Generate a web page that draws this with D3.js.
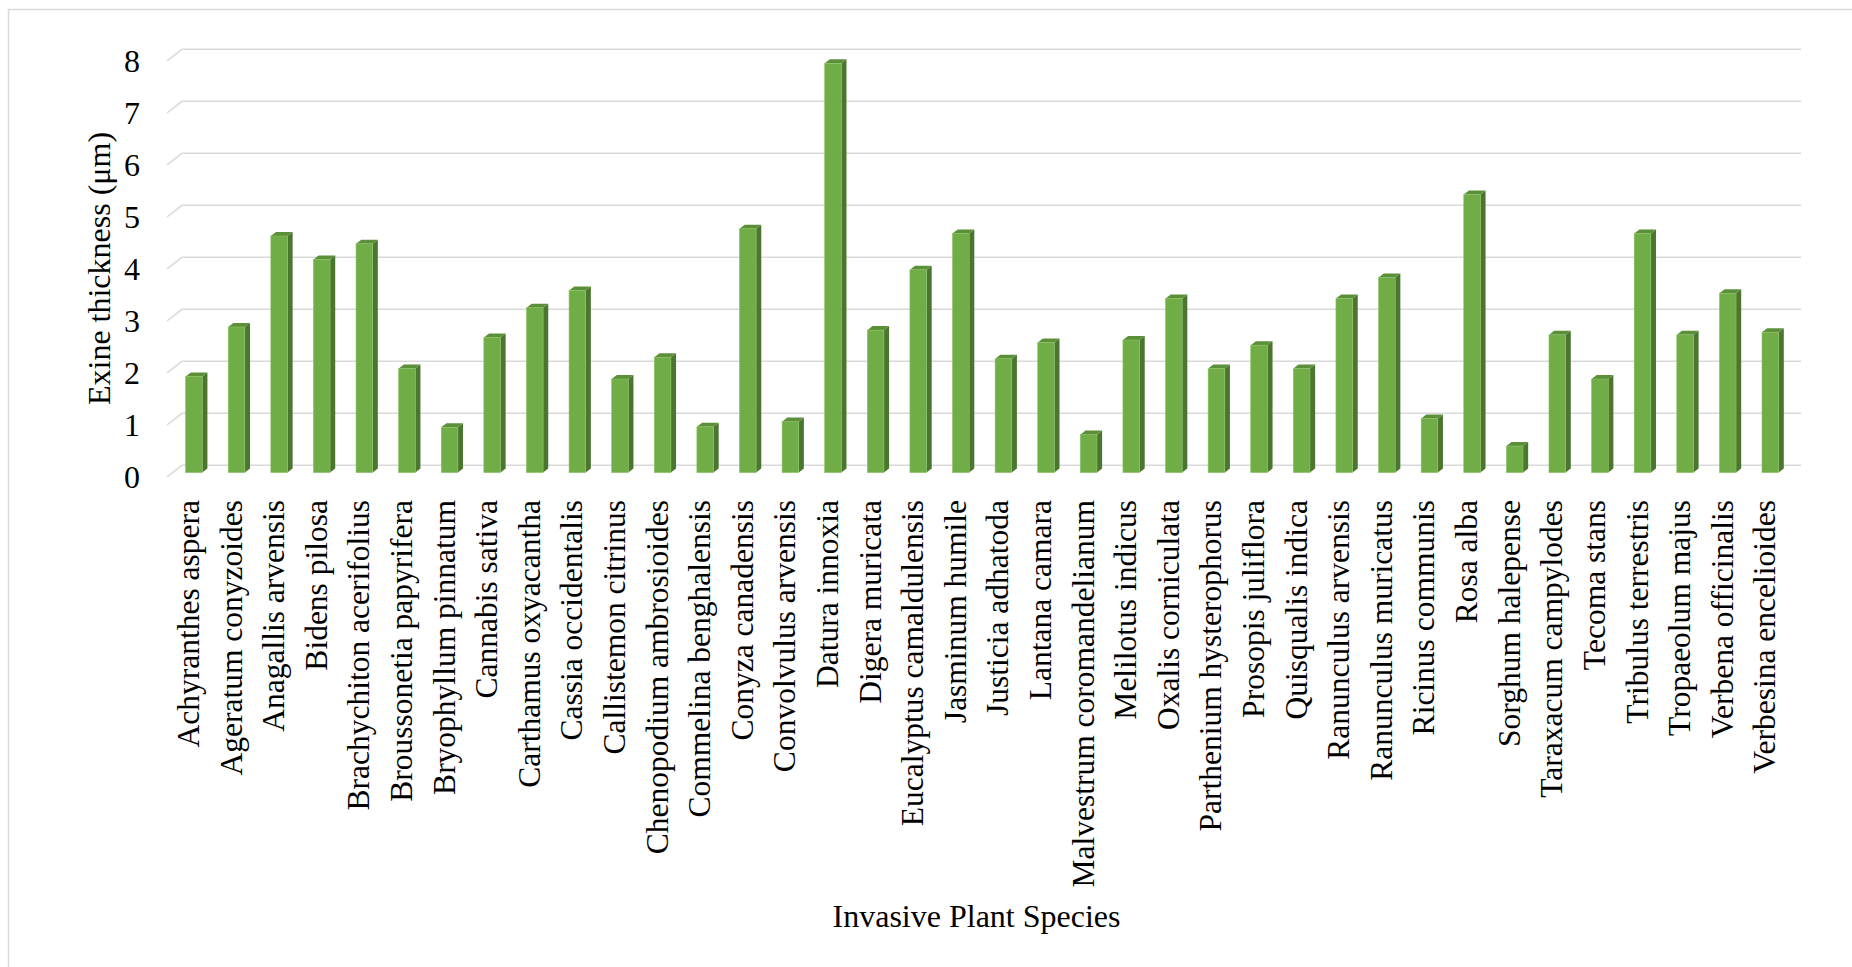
<!DOCTYPE html>
<html>
<head>
<meta charset="utf-8">
<script src="https://cdn.jsdelivr.net/npm/d3@7/dist/d3.min.js"></script>
<style>
  html, body { margin: 0; padding: 0; background: #ffffff; }
  svg { display: block; }
  text { font-family: "Liberation Serif", "Times New Roman", serif; fill: #000; }
</style>
</head>
<body>
<svg id="chart" width="1852" height="967"></svg>
<script>
// ---- Data ----
const categories = [
  "Achyranthes aspera", "Ageratum conyzoides", "Anagallis arvensis", "Bidens pilosa",
  "Brachychiton acerifolius", "Broussonetia papyrifera", "Bryophyllum pinnatum", "Cannabis sativa",
  "Carthamus oxyacantha", "Cassia occidentalis", "Callistemon citrinus", "Chenopodium ambrosioides",
  "Commelina benghalensis", "Conyza canadensis", "Convolvulus arvensis", "Datura innoxia",
  "Digera muricata", "Eucalyptus camaldulensis", "Jasminum humile", "Justicia adhatoda",
  "Lantana camara", "Malvestrum coromandelianum", "Melilotus indicus", "Oxalis corniculata",
  "Parthenium hysterophorus", "Prosopis juliflora", "Quisqualis indica", "Ranunculus arvensis",
  "Ranunculus muricatus", "Ricinus communis", "Rosa alba", "Sorghum halepense",
  "Taraxacum campylodes", "Tecoma stans", "Tribulus terrestris", "Tropaeolum majus",
  "Verbena officinalis", "Verbesina encelioides"
];
const exineThickness = [
  1.85, 2.8, 4.55, 4.1, 4.4, 2.0, 0.87, 2.6, 3.17, 3.5,
  1.8, 2.22, 0.88, 4.69, 0.98, 7.87, 2.74, 3.9, 4.6, 2.19,
  2.5, 0.73, 2.55, 3.35, 2.0, 2.45, 2.0, 3.35, 3.75, 1.04,
  5.35, 0.51, 2.65, 1.8, 4.6, 2.65, 3.45, 2.7
];
const yTicks = [0, 1, 2, 3, 4, 5, 6, 7, 8];
const yTitle = "Exine thickness (\u03bcm)";
const xTitle = "Invasive Plant Species";

// ---- Layout ----
const svg = d3.select("#chart");
const W = 1852, H = 967;
const back = { left: 182, right: 1801, top: 49.3, bottom: 465.3 };
const depth = { dx: -15, dy: 11.7 };     // back plane -> front plane
const fFront = 0.625, fBack = 0.28;      // bar faces, as depth fractions
const fontSize = 32;

// outer chart border
svg.append("rect")
  .attr("x", 8.5).attr("y", 9.5)
  .attr("width", W + 10).attr("height", H + 10)
  .attr("fill", "none").attr("stroke", "#d9d9d9").attr("stroke-width", 1.5);

// scales (back plane)
const x = d3.scaleBand().domain(categories).range([back.left, back.right]).paddingInner(0).paddingOuter(0);
const y = d3.scaleLinear().domain([0, 8]).range([back.bottom, back.top]);

// gridlines: back wall line + left wall diagonal
const grid = svg.append("g").attr("fill", "none").attr("stroke", "#d9d9d9").attr("stroke-width", 1.5);
grid.selectAll("path.g").data(yTicks).join("path")
  .attr("d", d => {
    const yb = y(d);
    return `M${back.left + depth.dx},${yb + depth.dy}L${back.left},${yb}L${back.right},${yb}`;
  });

// bars
const barW = x.bandwidth() * 0.39;
const sdx = (fBack - fFront) * depth.dx, sdy = (fBack - fFront) * depth.dy;
const bars = svg.append("g");
categories.forEach((c, i) => {
  const v = exineThickness[i];
  const cx = x(c) + x.bandwidth() / 2 + fFront * depth.dx;
  const x0 = cx - barW / 2, x1 = cx + barW / 2;
  const top = y(v) + fFront * depth.dy;
  const bot = y(0) + fFront * depth.dy;
  const g = bars.append("g");
  // side
  g.append("path")
    .attr("d", `M${x1},${top}L${x1 + sdx},${top + sdy}L${x1 + sdx},${bot + sdy}L${x1},${bot}Z`)
    .attr("fill", "#4b7630");
  // top
  g.append("path")
    .attr("d", `M${x0},${top}L${x1},${top}L${x1 + sdx},${top + sdy}L${x0 + sdx},${top + sdy}Z`)
    .attr("fill", "#5b8f38");
  // front
  g.append("rect")
    .attr("x", x0).attr("y", top).attr("width", barW).attr("height", bot - top)
    .attr("fill", "#70ad47").attr("stroke", "#8cc063").attr("stroke-width", 0.6);
});

// y axis (front plane)
const yFront = d3.scaleLinear().domain([0, 8]).range([back.bottom + depth.dy, back.top + depth.dy]);
const yAxis = svg.append("g")
  .attr("transform", "translate(140,0)")
  .call(d3.axisLeft(yFront).tickValues(yTicks).tickSize(0).tickPadding(0).tickFormat(d3.format("d")));
yAxis.select(".domain").remove();
yAxis.selectAll("text")
  .attr("dy", "0.33em")
  .style("font-family", "'Liberation Serif', 'Times New Roman', serif")
  .style("font-size", fontSize + "px").attr("fill", "#000");

// x axis category labels (bar face plane)
const xFace = d3.scaleBand().domain(categories)
  .range([back.left + fFront * depth.dx, back.right + fFront * depth.dx]);
const xAxis = svg.append("g")
  .attr("transform", "translate(0,500)")
  .call(d3.axisBottom(xFace).tickSize(0).tickPadding(0));
xAxis.select(".domain").remove();
xAxis.selectAll("text")
  .attr("transform", "rotate(-90)")
  .attr("x", 0).attr("y", 5).attr("dy", 0)
  .attr("text-anchor", "end")
  .style("font-family", "'Liberation Serif', 'Times New Roman', serif")
  .style("font-size", "31.5px").attr("fill", "#000");

// axis titles
svg.append("text")
  .attr("transform", "translate(110,268.5) rotate(-90)")
  .attr("text-anchor", "middle")
  .style("font-size", fontSize + "px")
  .text(yTitle);
svg.append("text")
  .attr("x", (back.left + back.right) / 2 + depth.dx)
  .attr("y", 926.5)
  .attr("text-anchor", "middle")
  .style("font-size", fontSize + "px")
  .text(xTitle);
</script>
</body>
</html>
